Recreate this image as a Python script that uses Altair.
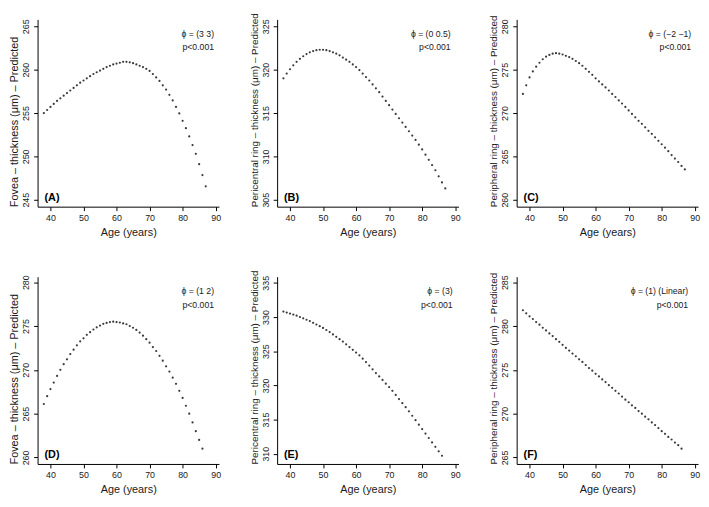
import altair as alt
import pandas as pd

# ---------------- data ----------------
AGES_TOP = [38, 39, 40, 41, 42, 43, 44, 45, 46, 47, 48, 49, 50, 51, 52, 53, 54,
            55, 56, 57, 58, 59, 60, 61, 62, 63, 64, 65, 66, 67, 68, 69, 70, 71,
            72, 73, 74, 75, 76, 77, 78, 79, 80, 81, 82, 83, 84, 85, 86, 87]
AGES_BOTTOM = [38, 39, 40, 41, 42, 43, 44, 45, 46, 47, 48, 49, 50, 51, 52, 53, 54,
               55, 56, 57, 58, 59, 60, 61, 62, 63, 64, 65, 66, 67, 68, 69, 70, 71,
               72, 73, 74, 75, 76, 77, 78, 79, 80, 81, 82, 83, 84, 85, 86]

FOVEA_A = [255.0, 255.35, 255.7, 256.05, 256.4, 256.7, 257.0, 257.3, 257.6, 257.9,
           258.2, 258.5, 258.75, 259.0, 259.25, 259.5, 259.7, 259.9, 260.1, 260.3,
           260.45, 260.6, 260.7, 260.8, 260.9, 260.9, 260.85, 260.75, 260.6, 260.45,
           260.3, 260.1, 259.85, 259.5, 259.1, 258.7, 258.2, 257.7, 257.1, 256.45,
           255.7, 254.95, 254.1, 253.25, 252.3, 251.3, 250.3, 249.1, 247.85, 246.55]
PERICENTRAL_B = [319.0, 319.55, 320.05, 320.5, 320.9, 321.25, 321.55, 321.8, 322.0, 322.15,
                 322.25, 322.3, 322.3, 322.25, 322.15, 322.0, 321.85, 321.65, 321.4, 321.15,
                 320.9, 320.6, 320.3, 319.95, 319.55, 319.15, 318.75, 318.3, 317.85, 317.4,
                 316.9, 316.4, 315.9, 315.4, 314.9, 314.4, 313.9, 313.4, 312.9, 312.4,
                 311.9, 311.35, 310.8, 310.2, 309.6, 309.0, 308.4, 307.7, 307.0, 306.3]
PERIPHERAL_C = [272.2, 273.2, 274.1, 274.8, 275.35, 275.8, 276.2, 276.5, 276.7, 276.85,
                276.9, 276.85, 276.75, 276.6, 276.45, 276.25, 276.0, 275.75, 275.45, 275.1,
                274.75, 274.4, 274.0, 273.65, 273.3, 272.95, 272.6, 272.2, 271.85, 271.45,
                271.1, 270.7, 270.3, 269.9, 269.5, 269.1, 268.75, 268.35, 267.95, 267.6,
                267.2, 266.8, 266.4, 266.0, 265.6, 265.15, 264.75, 264.35, 263.9, 263.5]
FOVEA_D = [266.1, 267.0, 267.8, 268.55, 269.3, 270.0, 270.65, 271.2, 271.8, 272.3,
           272.8, 273.25, 273.6, 274.0, 274.3, 274.6, 274.85, 275.05, 275.25, 275.35,
           275.45, 275.5, 275.45, 275.4, 275.3, 275.2, 275.0, 274.8, 274.55, 274.25,
           273.9, 273.5, 273.1, 272.6, 272.15, 271.6, 271.05, 270.4, 269.8, 269.1,
           268.4, 267.6, 266.8, 265.9, 265.0, 264.0, 263.0, 262.0, 261.0]
PERICENTRAL_E = [330.8, 330.65, 330.5, 330.35, 330.2, 330.0, 329.8, 329.6, 329.4, 329.15,
                 328.9, 328.65, 328.4, 328.1, 327.8, 327.45, 327.1, 326.75, 326.4, 326.0,
                 325.6, 325.2, 324.8, 324.4, 323.9, 323.4, 322.9, 322.35, 321.8, 321.3,
                 320.8, 320.25, 319.75, 319.2, 318.6, 318.0, 317.4, 316.8, 316.2, 315.55,
                 314.9, 314.25, 313.6, 312.95, 312.3, 311.65, 311.0, 310.35, 309.7]
PERIPHERAL_F = [281.8, 281.45, 281.1, 280.8, 280.45, 280.15, 279.8, 279.5, 279.15, 278.85,
                278.5, 278.2, 277.85, 277.5, 277.2, 276.85, 276.55, 276.2, 275.9, 275.55,
                275.2, 274.9, 274.55, 274.25, 273.9, 273.6, 273.25, 272.95, 272.6, 272.3,
                271.95, 271.6, 271.3, 270.95, 270.65, 270.3, 270.0, 269.65, 269.35, 269.0,
                268.7, 268.35, 268.0, 267.7, 267.35, 267.05, 266.7, 266.4, 266.0]

X_TICKS = [40, 50, 60, 70, 80, 90]
Y_TICKS_A = [245, 250, 255, 260, 265]
Y_TICKS_B = [305, 310, 315, 320, 325]
Y_TICKS_C = [260, 265, 270, 275, 280]
Y_TICKS_D = [260, 265, 270, 275, 280]
Y_TICKS_E = [310, 315, 320, 325, 330, 335]
Y_TICKS_F = [265, 270, 275, 280, 285]

TITLE_FOVEA = "Fovea \u2013 thickness (\u03bcm) \u2013 Predicted"
TITLE_PERICENTRAL = "Pericentral ring \u2013 thickness (\u03bcm) \u2013 Predicted"
TITLE_PERIPHERAL = "Peripheral ring \u2013 thickness (\u03bcm) \u2013 Predicted"
X_TITLE = "Age (years)"

PHI_LABELS = ["\u03d5 = (3 3)", "\u03d5 = (0 0.5)", "\u03d5 = (\u22122 \u22121)",
              "\u03d5 = (1 2)", "\u03d5 = (3)", "\u03d5 = (1) (Linear)"]
P_LABEL = "p<0.001"
PANEL_TAGS = ["(A)", "(B)", "(C)", "(D)", "(E)", "(F)"]

# ---------------- layout ----------------
W, H = 184, 190
FONT = "Liberation Sans"
INK = "#1a1a1a"


def panel(ages, vals, ytitle, ydom, yticks, phi, tag, right_off, title_size):
    df = pd.DataFrame({"age": ages, "value": vals})
    pts = alt.Chart(df).mark_circle(size=5, color="#3a3a3a", opacity=1).encode(
        x=alt.X("age:Q",
                scale=alt.Scale(domain=[36.1, 91.0], nice=False, zero=False),
                axis=alt.Axis(values=X_TICKS, title=X_TITLE, format="d")),
        y=alt.Y("value:Q",
                scale=alt.Scale(domain=ydom, nice=False, zero=False),
                axis=alt.Axis(values=yticks, title=ytitle, labelAngle=270,
                              titleAnchor="start", titleFontSize=title_size,
                              format="d")),
    )
    ann = alt.Chart(pd.DataFrame({"t": [phi + "\n" + P_LABEL]})).mark_text(
        align="right", baseline="alphabetic", fontSize=8.8, font=FONT,
        color=INK, lineBreak="\n", lineHeight=13.5,
    ).encode(x=alt.value(W - right_off), y=alt.value(18), text="t:N")
    lab = alt.Chart(pd.DataFrame({"t": [tag]})).mark_text(
        align="left", baseline="alphabetic", fontSize=11, fontWeight="bold",
        font=FONT, color="#000",
    ).encode(x=alt.value(7), y=alt.value(H - 6), text="t:N")
    return alt.layer(pts, ann, lab).properties(width=W, height=H)


pA = panel(AGES_TOP, FOVEA_A, TITLE_FOVEA, [244.2, 265.8], Y_TICKS_A, PHI_LABELS[0], PANEL_TAGS[0], 5, 11)
pB = panel(AGES_TOP, PERICENTRAL_B, TITLE_PERICENTRAL, [304.2, 325.8], Y_TICKS_B, PHI_LABELS[1], PANEL_TAGS[1], 8, 10)
pC = panel(AGES_TOP, PERIPHERAL_C, TITLE_PERIPHERAL, [259.2, 280.8], Y_TICKS_C, PHI_LABELS[2], PANEL_TAGS[2], 7, 10)
pD = panel(AGES_BOTTOM, FOVEA_D, TITLE_FOVEA, [259.26, 280.63], Y_TICKS_D, PHI_LABELS[3], PANEL_TAGS[3], 5, 11)
pE = panel(AGES_BOTTOM, PERICENTRAL_E, TITLE_PERICENTRAL, [308.5, 335.9], Y_TICKS_E, PHI_LABELS[4], PANEL_TAGS[4], 6, 10)
pF = panel(AGES_BOTTOM, PERIPHERAL_F, TITLE_PERIPHERAL, [264.26, 285.63], Y_TICKS_F, PHI_LABELS[5], PANEL_TAGS[5], 10, 10)

chart = alt.ConcatChart(
    concat=[pA, pB, pC, pD, pE, pF],
    columns=3,
    spacing={"row": 71, "column": 59},
    bounds="flush",
).properties(
    padding={"left": 0, "top": 0, "right": 0, "bottom": 0},
    background="white",
).configure_view(
    stroke="transparent"
).configure_axis(
    grid=False,
    domainColor="#000",
    domainWidth=1,
    tickColor="#000",
    tickSize=4,
    labelFont=FONT,
    labelFontSize=9,
    labelColor=INK,
    labelPadding=3,
    titleFont=FONT,
    titleFontSize=11,
    titleFontWeight="normal",
    titleColor=INK,
).configure_axisX(
    titlePadding=4,
).configure_axisY(
    titlePadding=2,
)

chart.save("out.html", embed_options={"renderer": "svg", "actions": False})
